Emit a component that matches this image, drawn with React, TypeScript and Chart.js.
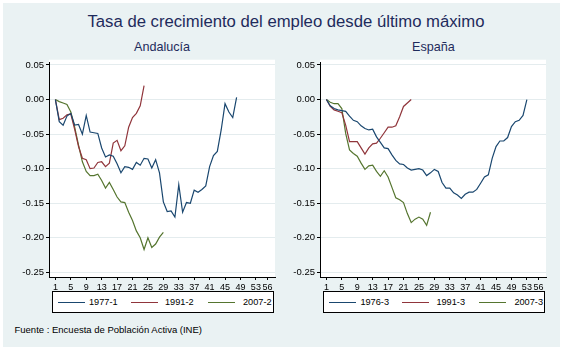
import React, { useEffect, useRef } from "react";
import { Chart, registerables } from "chart.js";

Chart.register(...registerables);

// ---- data ----
const X_TICKS = [1, 5, 9, 13, 17, 21, 25, 29, 33, 37, 41, 45, 49, 53, 56];
const Y_TICKS = [0.05, 0, -0.05, -0.1, -0.15, -0.2, -0.25];

const TITLE = "Tasa de crecimiento del empleo desde último máximo";
const FOOTER = "Fuente : Encuesta de Población Activa (INE)";

const AND_LABELS = ["1977-1", "1991-2", "2007-2"];
const ESP_LABELS = ["1976-3", "1991-3", "2007-3"];

const AND_1977_1 = [
  0.0, -0.032, -0.037, -0.024, -0.02, -0.037, -0.036, -0.05, -0.023, -0.047,
  -0.048, -0.049, -0.07, -0.083, -0.08, -0.082, -0.093, -0.106, -0.097, -0.098,
  -0.101, -0.091, -0.095, -0.085, -0.086, -0.099, -0.087, -0.106, -0.148, -0.162,
  -0.161, -0.17, -0.123, -0.163, -0.149, -0.15, -0.131, -0.134, -0.13, -0.125,
  -0.097, -0.081, -0.075, -0.044, -0.006, -0.018, -0.026, 0.003,
];
const AND_1991_2 = [
  0.0, -0.029, -0.027, -0.022, -0.021, -0.043, -0.068, -0.085, -0.087, -0.1,
  -0.099, -0.091, -0.09, -0.097, -0.092, -0.063, -0.059, -0.074, -0.067, -0.04,
  -0.026, -0.02, -0.009, 0.02,
];
const AND_2007_2 = [
  0.0, -0.003, -0.005, -0.007, -0.018, -0.04, -0.066, -0.09, -0.104, -0.11,
  -0.11, -0.108, -0.117, -0.128, -0.12, -0.13, -0.141, -0.148, -0.149, -0.163,
  -0.175, -0.19, -0.2, -0.217, -0.2, -0.214, -0.209, -0.199, -0.192,
];

const ESP_1976_3 = [
  0.0, -0.009, -0.013, -0.015, -0.016, -0.017, -0.024, -0.03, -0.032, -0.038,
  -0.042, -0.044, -0.043, -0.054, -0.062, -0.07, -0.071, -0.08, -0.088, -0.093,
  -0.094, -0.099, -0.102, -0.101, -0.1, -0.102, -0.11, -0.106, -0.101, -0.104,
  -0.12, -0.128, -0.128, -0.135, -0.138, -0.143, -0.137, -0.134, -0.134, -0.13,
  -0.121, -0.112, -0.109, -0.085, -0.068, -0.06, -0.06, -0.055, -0.039, -0.032,
  -0.03, -0.023, 0.0,
];
const ESP_1991_3 = [
  0.0, -0.01, -0.015, -0.017, -0.019, -0.037, -0.061, -0.061, -0.061, -0.07,
  -0.079, -0.07, -0.064, -0.063, -0.056, -0.048, -0.04, -0.04, -0.038, -0.025,
  -0.01, -0.005, 0.0,
];
const ESP_2007_3 = [
  0.0, -0.004, -0.006, -0.006, -0.013, -0.049, -0.073, -0.078, -0.082, -0.092,
  -0.101, -0.096, -0.095, -0.104, -0.111, -0.103, -0.112, -0.127, -0.142, -0.145,
  -0.149, -0.165, -0.178, -0.173, -0.17, -0.173, -0.182, -0.163,
];

const COLORS = ["#1a476f", "#90353b", "#55752f"];
const BG = "#eaf2f3";
const GRID = "#e4ecee";
const HEAD = "#1e2b5c";
const FONT = "'Liberation Sans', Arial, sans-serif";

const whiteArea = {
  id: "whiteArea",
  beforeDraw(chart: any) {
    const { ctx, chartArea } = chart;
    if (!chartArea) return;
    ctx.save();
    ctx.fillStyle = "#ffffff";
    ctx.fillRect(chartArea.left, chartArea.top - 3, chartArea.right - chartArea.left, chartArea.bottom - chartArea.top + 3);
    ctx.restore();
  },
};

function Panel(props: { left: number; series: number[][]; labels: string[]; subtitle: string }) {
  const ref = useRef<HTMLCanvasElement | null>(null);
  useEffect(() => {
    if (!ref.current) return;
    const chart = new Chart(ref.current, {
      type: "line",
      data: {
        datasets: props.series.map((s, k) => ({
          label: props.labels[k],
          data: s.map((v, i) => ({ x: i + 1, y: v })),
          borderColor: COLORS[k],
          borderWidth: 1.2,
          pointRadius: 0,
          fill: false,
          tension: 0,
        })),
      },
      options: {
        responsive: false,
        animation: false,
        devicePixelRatio: 1,
        layout: { padding: { top: 5, right: 5, left: 0, bottom: 0 } },
        plugins: { legend: { display: false }, tooltip: { enabled: false }, title: { display: false } },
        scales: {
          x: {
            type: "linear",
            min: -0.66,
            max: 57.96,
            afterBuildTicks: (s: any) => {
              s.ticks = X_TICKS.map((v) => ({ value: v }));
            },
            afterFit: (s: any) => {
              s.height = 18;
            },
            grid: { drawOnChartArea: false, drawTicks: true, tickLength: 3, tickColor: "#000" },
            border: { display: true, color: "#000", width: 1 },
            ticks: {
              autoSkip: false,
              maxRotation: 0,
              padding: 2,
              color: "#000",
              font: { family: FONT, size: 9 },
              callback: (v: any) => String(v),
            },
          },
          y: {
            type: "linear",
            min: -0.2567,
            max: 0.0533,
            afterBuildTicks: (s: any) => {
              s.ticks = Y_TICKS.map((v) => ({ value: v }));
            },
            afterFit: (s: any) => {
              s.width = 49;
            },
            grid: { color: GRID, lineWidth: 1, drawTicks: true, tickLength: 3, tickColor: "#000" },
            border: { display: true, color: "#000", width: 1 },
            ticks: {
              padding: 2,
              color: "#000",
              font: { family: FONT, size: 9.5 },
              callback: (v: any) => Number(v).toFixed(2),
            },
          },
        },
      },
      plugins: [whiteArea],
    } as any);
    return () => chart.destroy();
  }, []);

  const L = props.left;
  const items = [
    { line: 57.5, text: 89 },
    { line: 131, text: 165 },
    { line: 208, text: 243 },
  ];
  return (
    <>
      <div
        style={{
          position: "absolute",
          left: L + 49,
          width: 226,
          top: 41.3,
          textAlign: "center",
          fontFamily: FONT,
          fontSize: 12.6,
          lineHeight: "12.6px",
          color: HEAD,
          whiteSpace: "nowrap",
        }}
      >
        {props.subtitle}
      </div>
      <canvas ref={ref} width={280} height={240} style={{ position: "absolute", left: L, top: 55, width: 280, height: 240 }} />
      <div
        style={{
          position: "absolute",
          left: L + 52,
          top: 291,
          width: 220,
          height: 20,
          border: "1px solid #000",
          background: "#fff",
        }}
      />
      {items.map((it, k) => (
        <React.Fragment key={k}>
          <div
            style={{
              position: "absolute",
              left: L + it.line,
              top: 302,
              width: 27,
              height: 0,
              borderTop: `1.2px solid ${COLORS[k]}`,
            }}
          />
          <div
            style={{
              position: "absolute",
              left: L + it.text,
              top: 297.6,
              fontFamily: FONT,
              fontSize: 9.2,
              lineHeight: "9.2px",
              color: "#000",
              whiteSpace: "nowrap",
            }}
          >
            {props.labels[k]}
          </div>
        </React.Fragment>
      ))}
    </>
  );
}

export default function App() {
  return (
    <div style={{ position: "absolute", left: 0, top: 0, width: 567, height: 352, background: "#fff", overflow: "hidden" }}>
      <div style={{ position: "absolute", left: 3, top: 3, width: 557, height: 344, background: BG }} />
      <div
        style={{
          position: "absolute",
          left: 0,
          width: 572,
          top: 13.9,
          textAlign: "center",
          fontFamily: FONT,
          fontSize: 16.7,
          lineHeight: "16.7px",
          color: HEAD,
          whiteSpace: "nowrap",
        }}
      >
        {TITLE}
      </div>
      <Panel left={0} series={[AND_1977_1, AND_1991_2, AND_2007_2]} labels={AND_LABELS} subtitle="Andalucía" />
      <Panel left={271.4} series={[ESP_1976_3, ESP_1991_3, ESP_2007_3]} labels={ESP_LABELS} subtitle="España" />
      <div
        style={{
          position: "absolute",
          left: 14.5,
          top: 325.4,
          fontFamily: FONT,
          fontSize: 9.5,
          lineHeight: "9.5px",
          color: "#000",
          whiteSpace: "nowrap",
        }}
      >
        {FOOTER}
      </div>
    </div>
  );
}
